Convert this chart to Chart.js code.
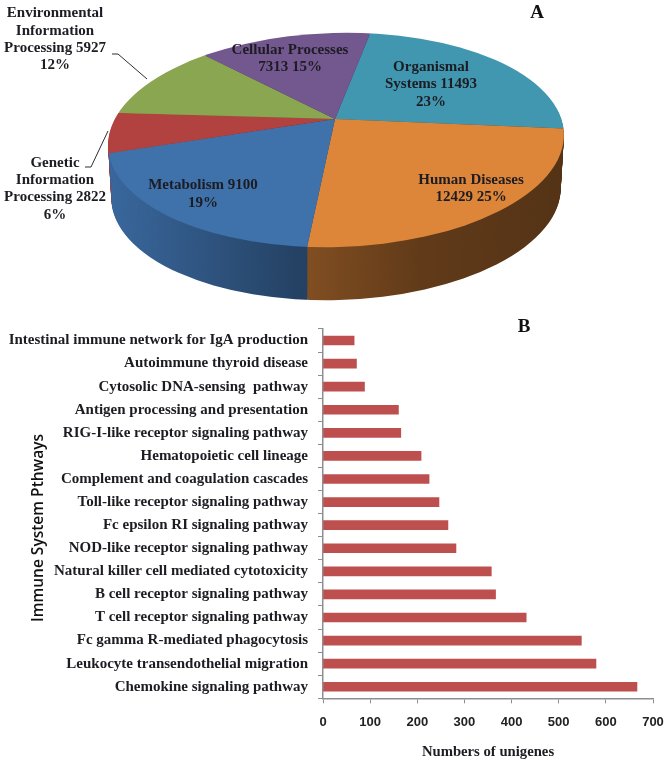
<!DOCTYPE html>
<html>
<head>
<meta charset="utf-8">
<title>Unigene pathways</title>
<script src="https://cdn.jsdelivr.net/npm/chart.js@4/dist/chart.umd.min.js"></script>
<style>
    html, body { margin: 0; padding: 0; background: #fff; }
    #wrap { position: relative; width: 670px; height: 764px; overflow: hidden; }
    canvas { position: absolute; left: 0; display: block; filter: blur(0.35px); }
    #pie-chart { top: 0; }
    #bar-chart { top: 310px; }
</style>
</head>
<body>
<div id="wrap">
    <canvas id="pie-chart" width="670" height="310"></canvas>
    <canvas id="bar-chart" width="670" height="454"></canvas>
</div>
<script>
// ----- DATA -----
const pieNames = ['Organismal Systems', 'Human Diseases', 'Metabolism', 'Genetic Information Processing', 'Environmental Information Processing', 'Cellular Processes'];
const pieValues = [11493, 12429, 9100, 2822, 5927, 7313];
const pieColors = ['#4197b0', '#dd863a', '#3f71ab', '#b2423f', '#8aa650', '#73578f'];
const pieLabelLines = [
    ['Organismal', 'Systems 11493', '23%'],
    ['Human Diseases', '12429 25%'],
    ['Metabolism 9100', '19%'],
    ['Genetic', 'Information', 'Processing 2822', '6%'],
    ['Environmental', 'Information', 'Processing 5927', '12%'],
    ['Cellular Processes', '7313 15%']
];

const pathways = [
    'Intestinal immune network for IgA production',
    'Autoimmune thyroid disease',
    'Cytosolic DNA-sensing  pathway',
    'Antigen processing and presentation',
    'RIG-I-like receptor signaling pathway',
    'Hematopoietic cell lineage',
    'Complement and coagulation cascades',
    'Toll-like receptor signaling pathway',
    'Fc epsilon RI signaling pathway',
    'NOD-like receptor signaling pathway',
    'Natural killer cell mediated cytotoxicity',
    'B cell receptor signaling pathway',
    'T cell receptor signaling pathway',
    'Fc gamma R-mediated phagocytosis',
    'Leukocyte transendothelial migration',
    'Chemokine signaling pathway'
];
const unigeneCounts = [66, 71, 88, 160, 165, 208, 225, 246, 265, 282, 357, 366, 431, 548, 579, 666];

// ----- LAYOUT -----
const SERIF_BOLD = 'bold 15px "Liberation Serif"';
const TEXT_COLOR = '#1c1c22';
const AXIS_COLOR = '#8c8f92';
// where each pie label is centred, first line y then line spacing
const pieLabelSpots = [
    { x: 431, y: 67, gap: 17.5 },
    { x: 471, y: 180, gap: 17 },
    { x: 203, y: 185, gap: 18 },
    { x: 55, y: 163, gap: 17.3 },
    { x: 55, y: 13.5, gap: 17.3 },
    { x: 290, y: 50, gap: 17 }
];
const pieLeaders = [
    [[85, 167], [91, 167], [108, 131]],
    [[112, 54], [118, 54], [147, 79]]
];
// the photographed pie is a tilted disc: rays leave an apex that sits above the rim's centre
const APEX = { x: 335, y: 119 };
const UPPER_SQUASH = 104 / 228;
const LOWER_SQUASH = 111 / 228;
const OVERSIZE = 1.4;
const RIM = { x: 336, y: 140, rx: 228, ry: 107, tilt: -0.028 };
const DEPTH = 53;

function rimPath(ctx, depth) {
    ctx.beginPath();
    ctx.ellipse(RIM.x, RIM.y + depth, RIM.rx - depth * 0.06, RIM.ry, RIM.tilt, 0, Math.PI * 2);
}

function drawArcs(ctx, arcs, depth) {
    // upper half and lower half of the disc are squashed differently
    [[0, APEX.y, UPPER_SQUASH], [APEX.y, 310 - APEX.y, LOWER_SQUASH]].forEach(([top, h, squash]) => {
        ctx.save();
        rimPath(ctx, depth);
        ctx.clip();
        ctx.beginPath();
        ctx.rect(0, top + depth, 670, h);
        ctx.clip();
        ctx.translate(APEX.x, APEX.y + depth);
        ctx.scale(OVERSIZE, squash * OVERSIZE);
        arcs.forEach(arc => {
            ctx.save();
            ctx.translate(-arc.x, -arc.y);
            arc.draw(ctx);
            ctx.restore();
        });
        ctx.restore();
    });
}

const tiltedPie = {
    id: 'tiltedPie',
    beforeDatasetsDraw(chart) {
        const ctx = chart.ctx;
        const arcs = chart.getDatasetMeta(0).data;
        for (let d = DEPTH; d >= 1; d--) drawArcs(ctx, arcs, d);

        // shade the side wall, darker towards the right
        const shade = ctx.createLinearGradient(108, 0, 564, 0);
        shade.addColorStop(0, 'rgba(0,0,0,0.08)');
        shade.addColorStop(0.42, 'rgba(0,0,0,0.42)');
        shade.addColorStop(0.44, 'rgba(0,0,0,0.42)');
        shade.addColorStop(0.68, 'rgba(0,0,0,0.56)');
        shade.addColorStop(1, 'rgba(0,0,0,0.62)');
        ctx.save();
        ctx.globalCompositeOperation = 'source-atop';
        ctx.fillStyle = shade;
        ctx.fillRect(0, 0, 670, 310);
        ctx.restore();

        drawArcs(ctx, arcs, 0);
        return false;
    },
    afterDraw(chart) {
        const ctx = chart.ctx;
        ctx.save();
        ctx.strokeStyle = '#2e2e2e';
        ctx.lineWidth = 1;
        pieLeaders.forEach(pts => {
            ctx.beginPath();
            pts.forEach(([x, y], i) => i ? ctx.lineTo(x, y) : ctx.moveTo(x, y));
            ctx.stroke();
        });
        ctx.fillStyle = TEXT_COLOR;
        ctx.font = SERIF_BOLD;
        ctx.textAlign = 'center';
        ctx.textBaseline = 'middle';
        pieLabelLines.forEach((lines, i) => {
            const spot = pieLabelSpots[i];
            lines.forEach((line, j) => ctx.fillText(line, spot.x, spot.y + j * spot.gap));
        });
        ctx.font = 'bold 19px "Liberation Serif"';
        ctx.fillStyle = '#111';
        ctx.fillText('A', 537, 13);
        ctx.restore();
    }
};

const barExtras = {
    id: 'barExtras',
    afterDraw(chart) {
        const ctx = chart.ctx;
        ctx.save();
        ctx.textAlign = 'center';
        ctx.textBaseline = 'middle';
        ctx.fillStyle = '#111';
        ctx.font = 'bold 19px "Liberation Serif"';
        ctx.fillText('B', 524, 17);
        ctx.translate(39, 218);
        ctx.rotate(-Math.PI / 2);
        ctx.font = '600 15.5px "Open Sans"';
        ctx.fillText('Immune System Pthways', 0, 0);
        ctx.restore();
    }
};

// ----- CHARTS -----
new Chart(document.getElementById('pie-chart'), {
    type: 'pie',
    data: {
        labels: pieNames,
        datasets: [{ data: pieValues, backgroundColor: pieColors, borderWidth: 0, hoverOffset: 0 }]
    },
    options: {
        responsive: false,
        animation: false,
        rotation: 10.6,
        radius: 228,
        layout: { padding: { bottom: 72 } },
        plugins: { legend: { display: false }, tooltip: { enabled: false } }
    },
    plugins: [tiltedPie]
});

new Chart(document.getElementById('bar-chart'), {
    type: 'bar',
    data: {
        labels: pathways,
        datasets: [{
            data: unigeneCounts,
            backgroundColor: '#bd504e',
            barThickness: 9
        }]
    },
    options: {
        indexAxis: 'y',
        responsive: false,
        animation: false,
        layout: { padding: { top: 18.5, right: 17 } },
        plugins: { legend: { display: false }, tooltip: { enabled: false } },
        scales: {
            x: {
                min: 0,
                max: 700,
                afterFit(scale) {
                    scale.height = 65.7;
                    scale.paddingLeft = 0;
                    scale.paddingRight = 0;
                },
                border: { color: AXIS_COLOR, width: 1.5 },
                grid: { drawOnChartArea: false, color: AXIS_COLOR, tickLength: 5 },
                ticks: {
                    stepSize: 100,
                    maxRotation: 0,
                    padding: 11,
                    color: '#222',
                    font: { family: '"Liberation Sans"', size: 13, weight: 'bold' }
                },
                title: {
                    display: true,
                    text: 'Numbers of unigenes',
                    color: TEXT_COLOR,
                    padding: { top: 2, bottom: 3 },
                    font: { family: '"Liberation Serif"', size: 14.7, weight: 'bold' }
                }
            },
            y: {
                afterFit(scale) { scale.width = 323; },
                border: { color: AXIS_COLOR, width: 1.5 },
                grid: { drawOnChartArea: false, offset: true, color: AXIS_COLOR, tickLength: 5 },
                ticks: {
                    autoSkip: false,
                    padding: 10,
                    color: TEXT_COLOR,
                    font: { family: '"Liberation Serif"', size: 15, weight: 'bold' }
                }
            }
        }
    },
    plugins: [barExtras]
});
</script>
</body>
</html>
